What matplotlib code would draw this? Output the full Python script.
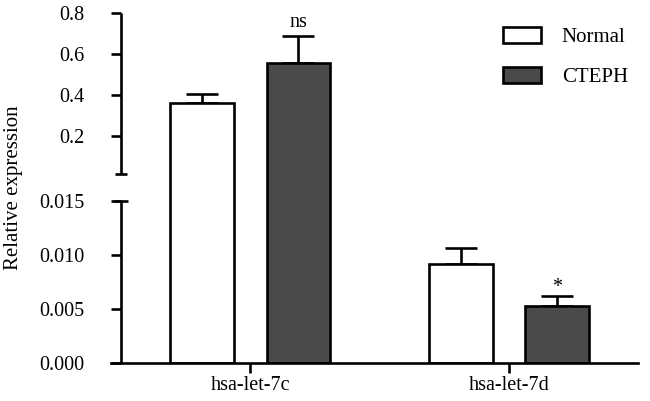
import numpy as np
import matplotlib
matplotlib.use("Agg")
import matplotlib.pyplot as plt
from matplotlib.patches import Patch

plt.rcParams["font.family"] = ["Liberation Serif", "DejaVu Serif"]

# data
groups = ["hsa-let-7c", "hsa-let-7d"]
normal_mean = [0.362, 0.0092]
normal_err = [0.044, 0.0014]
cteph_mean = [0.556, 0.0053]
cteph_err = [0.132, 0.0009]
signif = ["ns", "*"]
ytick_vals = [0.0, 0.005, 0.010, 0.015, 0.2, 0.4, 0.6, 0.8]
ytick_labels = ["0.000", "0.005", "0.010", "0.015", "0.2", "0.4", "0.6", "0.8"]

# broken axis: lower part 0-0.015, gap, upper part 0.015-0.8
BRK = 0.015
GAP = 0.5
K = 3.796


def fwd(y):
    y = np.asarray(y, dtype=float)
    return np.where(y <= BRK, y / 0.005, BRK / 0.005 + GAP + (y - BRK) * K)


def inv(u):
    u = np.asarray(u, dtype=float)
    lo = u * 0.005
    hi = BRK + (u - BRK / 0.005 - GAP) / K
    return np.where(u <= BRK / 0.005, lo, np.where(u < BRK / 0.005 + GAP, BRK, hi))


fig = plt.figure(figsize=(6.5, 4.01), dpi=100)
ax = fig.add_axes([111 / 650, 1 - 363 / 401, 527 / 650, 350 / 401])
ax.set_yscale("function", functions=(fwd, inv))
ax.set_ylim(0, 0.8)
ax.set_xlim(-0.537, 1.498)

x = np.arange(len(groups))
w = 0.247
off = 0.187
dark = "#4a4a4a"
lw = 1.9
fs = 14.5

ax.bar(x - off, normal_mean, w, color="white", edgecolor="black", linewidth=lw, zorder=2)
ax.bar(x + off, cteph_mean, w, color=dark, edgecolor="black", linewidth=lw, zorder=2)
ax.errorbar(x - off, normal_mean, yerr=[np.zeros(2), normal_err], fmt="none",
            ecolor="black", elinewidth=lw, capsize=11.5, capthick=lw, zorder=1)
ax.errorbar(x + off, cteph_mean, yerr=[np.zeros(2), cteph_err], fmt="none",
            ecolor="black", elinewidth=lw, capsize=11.5, capthick=lw, zorder=1)

for xi, m, e, s, dy in zip(x + off, cteph_mean, cteph_err, signif, [3, -1]):
    ax.annotate(s, (xi, m + e), xytext=(0, dy), textcoords="offset points",
                ha="center", va="bottom", fontsize=fs)

# spines
for side in ["top", "right", "left"]:
    ax.spines[side].set_visible(False)
ax.spines["bottom"].set_linewidth(lw)
ax.spines["left"].set_position(("data", -0.5))

ax.plot([-0.5, -0.5], [0, BRK], color="black", lw=lw, clip_on=False, solid_capstyle="butt")
ax.plot([-0.5, -0.5], [BRK + 1e-9, 0.8], color="black", lw=lw, clip_on=False, solid_capstyle="butt")
ax.plot([-0.5], [BRK], marker="_", ms=10, mew=lw, color="black", clip_on=False)
ax.plot([-0.5], [BRK + 1e-9], marker="_", ms=8, mew=lw, color="black", clip_on=False)

ax.set_yticks(ytick_vals)
ax.set_yticklabels(ytick_labels)
ax.yaxis.set_minor_locator(plt.NullLocator())
ax.tick_params(axis="y", length=7, width=lw, pad=19, labelsize=fs)
ax.set_xticks(x)
ax.set_xticklabels(groups)
ax.tick_params(axis="x", length=7, width=lw, pad=2, labelsize=fs)

ax.set_ylabel("Relative expression", fontsize=15)
ax.yaxis.set_label_coords(-0.167, 0.5)

handles = [Patch(facecolor="white", edgecolor="black", linewidth=lw, label="Normal"),
           Patch(facecolor=dark, edgecolor="black", linewidth=lw, label="CTEPH")]
fig.legend(handles=handles, loc="upper left", bbox_to_anchor=(484 / 650, 1 - 8 / 401),
           frameon=False, fontsize=15, handlelength=1.83, handleheight=0.82,
           labelspacing=0.95, handletextpad=1.0)

fig.savefig("out.png", dpi=100)
